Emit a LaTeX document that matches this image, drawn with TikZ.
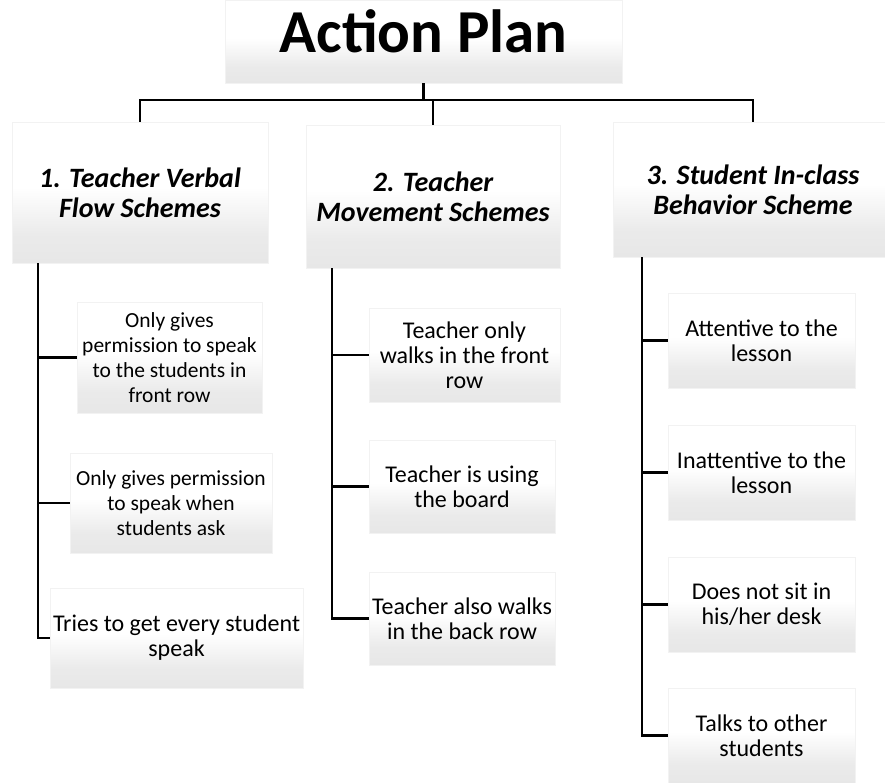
\documentclass[tikz,border=0pt]{standalone}
\usepackage{fontspec}
\setmainfont{Carlito}
\usetikzlibrary{positioning, calc}
\pgfdeclareverticalshading{bevel}{100bp}{color(0bp)=(black!13); color(35bp)=(black!8); color(52bp)=(white); color(100bp)=(white)}
\tikzset{
    box/.style={shading=bevel, draw=black!5, inner sep=0pt, align=center},
    headbox/.style={box, font=\fontsize{28}{30}\selectfont\bfseries\itshape},
    leafbox/.style={box, font=\fontsize{24}{25}\selectfont},
    smallleaf/.style={leafbox, font=\fontsize{21.5}{25}\selectfont},
    link/.style={draw, line width=2.2pt},
}

\begin{document}
\begin{tikzpicture}[x=1pt, y=-1pt]
    \useasboundingbox (0,0) rectangle (885,783);

    \node[box, minimum width=397pt, minimum height=83pt, text depth=20pt,
          font=\fontsize{61}{66}\selectfont\bfseries] (plan) at (423.5,41.5) {Action Plan};

    \node[headbox, minimum width=256pt, minimum height=141pt] (s1) at (140,192.5) {1. Teacher Verbal\\Flow Schemes};
    \node[headbox, minimum width=254pt, minimum height=143pt] (s2) at (433,196.5) {2. Teacher\\Movement Schemes};
    \node[headbox, minimum width=280pt, minimum height=135pt] (s3) at (753,189.5) {3. Student In-class\\Behavior Scheme};

    % verbal flow
    \node[smallleaf, minimum width=185pt, minimum height=111pt] (s1a) at (169.5,357.5) {Only gives\\permission to speak\\to the students in\\front row};
    \node[smallleaf, minimum width=202pt, minimum height=100pt] (s1b) at (171,503) {Only gives permission\\to speak when\\students ask};
    \node[leafbox, minimum width=253pt, minimum height=100pt] (s1c) at (176.5,638) {Tries to get every student\\speak};

    % movement
    \node[leafbox, minimum width=191pt, minimum height=94pt] (s2a) at (464.5,355) {Teacher only\\walks in the front\\row};
    \node[leafbox, minimum width=186pt, minimum height=93pt] (s2b) at (462,486.5) {Teacher is using\\the board};
    \node[leafbox, minimum width=186pt, minimum height=93pt] (s2c) at (462,618.5) {Teacher also walks\\in the back row};

    % behavior
    \node[leafbox, minimum width=187pt, minimum height=95pt] (s3a) at (761.5,340.5) {Attentive to the\\lesson};
    \node[leafbox, minimum width=187pt, minimum height=95pt] (s3b) at (761.5,472.5) {Inattentive to the\\lesson};
    \node[leafbox, minimum width=187pt, minimum height=95pt] (s3c) at (761.5,604.5) {Does not sit in\\his/her desk};
    \node[leafbox, minimum width=187pt, minimum height=95pt] (s3d) at (761.5,735.5) {Talks to other\\students};

    \coordinate (bar) at ($(plan.south)+(0,17)$);
    \draw[link] (plan.south) -- (bar);
    \draw[link] (s1.north) |- (bar) -| (s3.north);
    \draw[link] (s2.north) -- (s2.north |- bar);

    \foreach \s/\dx/\last in {s1/26/c, s2/26/c, s3/29/d}
      \draw[link] ([xshift=\dx pt]\s.south west) |- (\s\last.west);
    \foreach \s/\dx/\leaf in {s1/26/a, s1/26/b, s2/26/a, s2/26/b, s3/29/a, s3/29/b, s3/29/c}
      \draw[link] ([xshift=\dx pt]\s.south west |- \s\leaf.west) -- (\s\leaf.west);
\end{tikzpicture}
\end{document}
